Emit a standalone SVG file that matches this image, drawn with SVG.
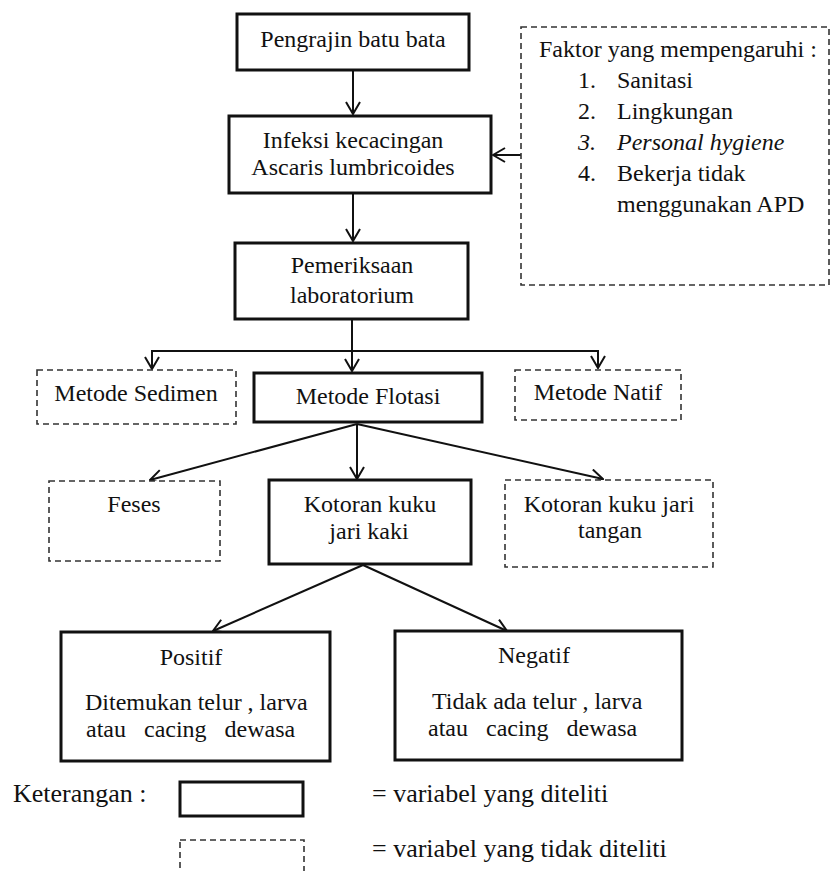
<svg xmlns="http://www.w3.org/2000/svg" width="833" height="871" viewBox="0 0 833 871">
<style>
  text { font-family: "Liberation Serif", "Times New Roman", serif; font-size: 24px; fill: #111; }
  .c { text-anchor: middle; }
  .leg { font-size: 26px; }
  .solid { fill: #fff; stroke: #111; stroke-width: 3; }
  .dash { fill: #fff; stroke: #333; stroke-width: 1.6; stroke-dasharray: 6 4; }
  .conn { fill: none; stroke: #111; stroke-width: 2; }
</style>
<defs>
  <marker id="arr" viewBox="0 0 14 16" refX="13" refY="8" markerWidth="14" markerHeight="16" markerUnits="userSpaceOnUse" orient="auto">
    <path d="M1,1 L13,8 L1,15" fill="none" stroke="#111" stroke-width="2"/>
  </marker>
</defs>
<rect width="833" height="871" fill="#fff"/>

<g id="connectors">
  <line class="conn" x1="353" y1="71" x2="353" y2="114" marker-end="url(#arr)"/>
  <line class="conn" x1="521" y1="155" x2="493" y2="155" marker-end="url(#arr)"/>
  <line class="conn" x1="353" y1="194" x2="353" y2="241" marker-end="url(#arr)"/>
  <line class="conn" x1="352" y1="320" x2="352" y2="371" marker-end="url(#arr)"/>
  <polyline class="conn" points="152,369 152,351 598,351 598,368" marker-end="url(#arr)"/>
  <line class="conn" x1="152" y1="351" x2="152" y2="369" marker-end="url(#arr)"/>
  <line class="conn" x1="357" y1="424" x2="150" y2="480" marker-end="url(#arr)"/>
  <line class="conn" x1="357" y1="424" x2="357" y2="479" marker-end="url(#arr)"/>
  <line class="conn" x1="357" y1="424" x2="603" y2="479" marker-end="url(#arr)"/>
  <line class="conn" x1="363" y1="565" x2="213" y2="631" marker-end="url(#arr)"/>
  <line class="conn" x1="363" y1="565" x2="507" y2="631" marker-end="url(#arr)"/>
</g>

<g id="pengrajin">
  <rect class="solid" x="237" y="14" width="232" height="56"/>
  <text class="c" x="353" y="47">Pengrajin batu bata</text>
</g>

<g id="infeksi">
  <rect class="solid" x="229" y="116" width="262" height="77"/>
  <text class="c" x="353" y="148">Infeksi kecacingan</text>
  <text class="c" x="353" y="175">Ascaris lumbricoides</text>
</g>

<g id="faktor">
  <rect class="dash" x="521" y="27" width="308" height="258"/>
  <text x="539" y="57">Faktor yang mempengaruhi :</text>
  <text x="578" y="88">1.</text><text x="617" y="88">Sanitasi</text>
  <text x="578" y="119">2.</text><text x="617" y="119">Lingkungan</text>
  <text x="578" y="150" font-style="italic">3.</text><text x="617" y="150" font-style="italic">Personal hygiene</text>
  <text x="578" y="181">4.</text><text x="617" y="181">Bekerja tidak</text>
  <text x="617" y="212">menggunakan APD</text>
</g>

<g id="pemeriksaan">
  <rect class="solid" x="235" y="243" width="233" height="76"/>
  <text class="c" x="352" y="273">Pemeriksaan</text>
  <text class="c" x="352" y="303">laboratorium</text>
</g>

<g id="sedimen">
  <rect class="dash" x="37" y="370" width="199" height="54"/>
  <text class="c" x="136" y="401">Metode Sedimen</text>
</g>

<g id="flotasi">
  <rect class="solid" x="254" y="373" width="228" height="49"/>
  <text class="c" x="368" y="404">Metode Flotasi</text>
</g>

<g id="natif">
  <rect class="dash" x="515" y="370" width="166" height="50"/>
  <text class="c" x="598" y="400">Metode Natif</text>
</g>

<g id="feses">
  <rect class="dash" x="49" y="481" width="171" height="80"/>
  <text class="c" x="134" y="512">Feses</text>
</g>

<g id="kaki">
  <rect class="solid" x="269" y="480" width="202" height="84"/>
  <text class="c" x="370" y="512">Kotoran kuku</text>
  <text class="c" x="369" y="539">jari kaki</text>
</g>

<g id="tangan">
  <rect class="dash" x="505" y="480" width="208" height="87"/>
  <text class="c" x="609" y="512">Kotoran kuku jari</text>
  <text class="c" x="610" y="538">tangan</text>
</g>

<g id="positif">
  <rect class="solid" x="61" y="632" width="269" height="129"/>
  <text class="c" x="191" y="665">Positif</text>
  <text x="85" y="710">Ditemukan telur , larva</text>
  <text x="86" y="737" xml:space="preserve">atau   cacing   dewasa</text>
</g>

<g id="negatif">
  <rect class="solid" x="395" y="631" width="287" height="129"/>
  <text class="c" x="534" y="663">Negatif</text>
  <text x="432" y="709">Tidak ada telur , larva</text>
  <text x="428" y="736" xml:space="preserve">atau   cacing   dewasa</text>
</g>

<g id="legend">
  <text class="leg" x="13" y="802">Keterangan :</text>
  <rect class="solid" x="180" y="782" width="123" height="34"/>
  <text class="leg" x="372" y="802">= variabel yang diteliti</text>
  <rect class="dash" x="180" y="840" width="124" height="50"/>
  <text class="leg" x="372" y="857">= variabel yang tidak diteliti</text>
</g>
</svg>
